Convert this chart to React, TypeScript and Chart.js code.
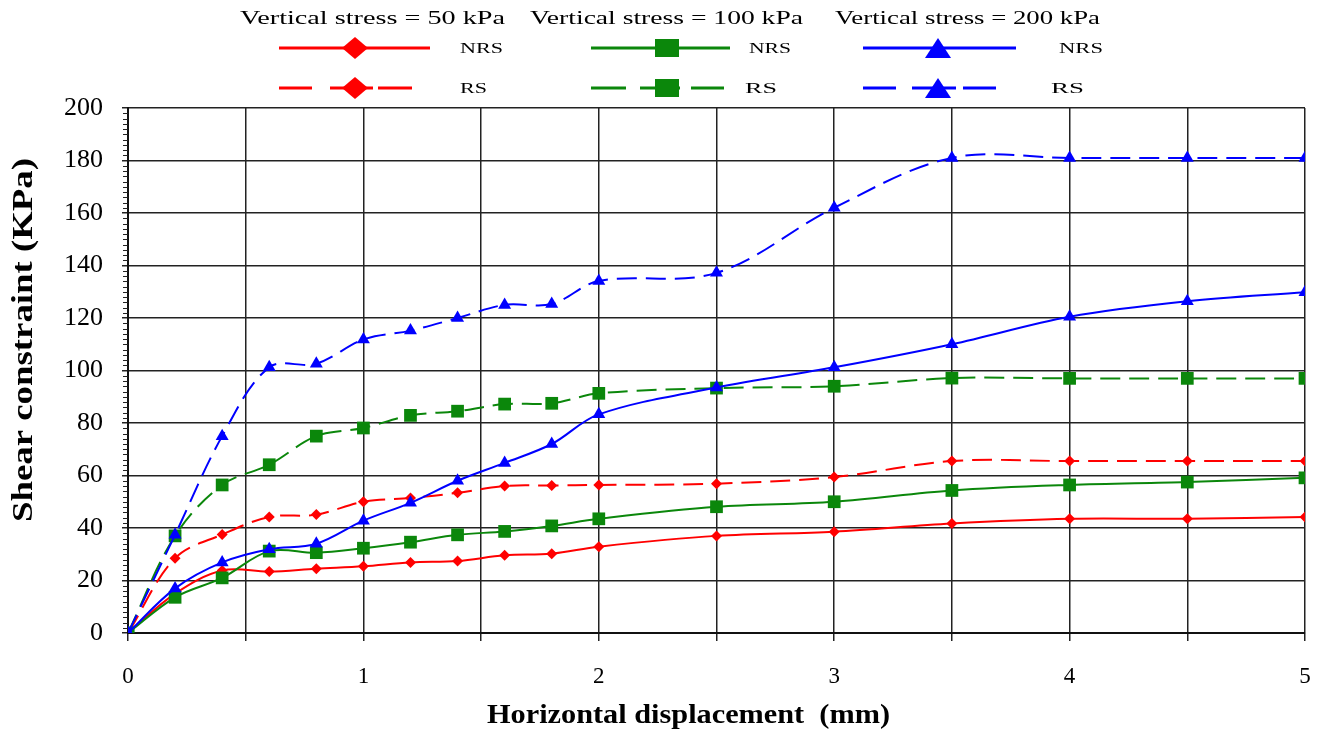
import React, { useEffect, useRef } from 'react';
import { Chart, registerables } from 'chart.js';

Chart.register(...registerables);

// ---------- data ----------
const displacement = [0, 0.2, 0.4, 0.6, 0.8, 1, 1.2, 1.4, 1.6, 1.8, 2, 2.5, 3, 3.5, 4, 4.5, 5];

const nrs50 = [0, 15, 23.8, 23.4, 24.5, 25.4, 26.9, 27.4, 29.6, 30.2, 32.9, 37, 38.6, 41.7, 43.5, 43.5, 44.2];
const rs50 = [0, 28.5, 37.5, 44.2, 45.1, 50, 51.4, 53.4, 56, 56.2, 56.4, 56.9, 59.4, 65.5, 65.5, 65.5, 65.5];
const nrs100 = [0, 13.6, 21, 31.2, 30.6, 32.3, 34.6, 37.4, 38.7, 40.8, 43.5, 48.1, 50, 54.3, 56.4, 57.5, 59.1];
const rs100 = [0, 37, 56.4, 64.1, 75, 78.1, 82.9, 84.5, 87.2, 87.5, 91.3, 93.3, 94, 97.1, 97, 97, 97];
const nrs200 = [0, 17, 26.9, 31.9, 34, 42.8, 49.6, 58, 64.8, 72, 83.3, 93.5, 101.2, 110, 120.5, 126.4, 129.8];
const rs200 = [0, 37.4, 75, 101.2, 102.6, 111.8, 115.2, 120, 125, 125.3, 134.1, 137.2, 162, 181, 181, 181, 181];

const groupTitles = ['Vertical stress = 50 kPa', 'Vertical stress = 100 kPa', 'Vertical stress = 200 kPa'];
const seriesNames = ['NRS', 'RS'];
const xTitle = 'Horizontal displacement  (mm)';
const yTitle = 'Shear constraint (KPa)';

const RED = '#ff0000';
const GREEN = '#0b870b';
const BLUE = '#0000ff';
const SERIF = '"Liberation Serif", "Times New Roman", serif';
const DASH = [20, 9];

type Shape = 'diamond' | 'square' | 'triangle';

function toPoints(ys: number[]) {
  return displacement.map((x, i) => ({ x, y: ys[i] }));
}

function drawMarker(ctx: CanvasRenderingContext2D, shape: Shape, x: number, y: number, rx: number, ry: number, color: string) {
  ctx.save();
  ctx.fillStyle = color;
  ctx.beginPath();
  if (shape === 'diamond') {
    ctx.moveTo(x - rx, y);
    ctx.lineTo(x, y - ry);
    ctx.lineTo(x + rx, y);
    ctx.lineTo(x, y + ry);
  } else if (shape === 'square') {
    ctx.rect(x - rx, y - ry, 2 * rx, 2 * ry);
  } else {
    ctx.moveTo(x, y - ry);
    ctx.lineTo(x + rx, y + ry);
    ctx.lineTo(x - rx, y + ry);
  }
  ctx.closePath();
  ctx.fill();
  ctx.restore();
}

function drawStretched(ctx: CanvasRenderingContext2D, text: string, x0: number, x1: number, y: number, font: string, rotate = false) {
  ctx.save();
  ctx.font = font;
  ctx.fillStyle = '#000';
  ctx.textBaseline = 'middle';
  ctx.textAlign = 'center';
  const w = ctx.measureText(text).width;
  const s = Math.abs(x1 - x0) / w;
  if (rotate) {
    // x0/x1 are vertical extents, y is the horizontal centre
    ctx.translate(y, (x0 + x1) / 2);
    ctx.rotate(-Math.PI / 2);
  } else {
    ctx.translate((x0 + x1) / 2, y);
  }
  ctx.scale(s, 1);
  ctx.fillText(text, 0, 0);
  ctx.restore();
}

const legendGroups = [
  {
    color: RED, shape: 'diamond' as Shape, x0: 279, x1: 430, mx: 355, rx: 13, ry: 11,
    nrs: [460, 503], rs: [460, 487], dashes: [[279, 312], [330, 373], [378, 412]],
  },
  {
    color: GREEN, shape: 'square' as Shape, x0: 591, x1: 730, mx: 667, rx: 12, ry: 9,
    nrs: [749, 791], rs: [745, 777], dashes: [[591, 626], [640, 680], [691, 724]],
  },
  {
    color: BLUE, shape: 'triangle' as Shape, x0: 863, x1: 1016, mx: 938, rx: 13, ry: 10,
    nrs: [1059, 1103], rs: [1051, 1084], dashes: [[863, 896], [912, 956], [963, 996]],
  },
];
const titleSpans = [[240, 505], [530, 803], [835, 1100]];

const overlayPlugin = {
  id: 'overlay',
  afterDraw(chart: any) {
    const ctx: CanvasRenderingContext2D = chart.ctx;
    // group titles
    groupTitles.forEach((t, i) => {
      drawStretched(ctx, t, titleSpans[i][0], titleSpans[i][1], 19, `19px ${SERIF}`);
    });
    const rows = [48, 88];
    legendGroups.forEach((g) => {
      rows.forEach((ry, ri) => {
        ctx.save();
        ctx.strokeStyle = g.color;
        ctx.lineWidth = 3;
        ctx.beginPath();
        if (ri === 0) {
          ctx.moveTo(g.x0, ry);
          ctx.lineTo(g.x1, ry);
        } else {
          g.dashes.forEach(([a, b]) => {
            ctx.moveTo(a, ry);
            ctx.lineTo(b, ry);
          });
        }
        ctx.stroke();
        ctx.restore();
        drawMarker(ctx, g.shape, g.mx, ry, g.rx, g.ry, g.color);
        const span = ri === 0 ? g.nrs : g.rs;
        drawStretched(ctx, seriesNames[ri], span[0], span[1], ry + 1, `15px ${SERIF}`);
      });
    });
    // axis titles
    drawStretched(ctx, xTitle, 487, 890, 716, `bold 27px ${SERIF}`);
    drawStretched(ctx, yTitle, 522, 158, 24, `bold 30px ${SERIF}`, true);

    // minor ticks on the y axis
    const y = chart.scales.y;
    const left = chart.chartArea.left;
    ctx.save();
    ctx.strokeStyle = '#222';
    ctx.lineWidth = 1;
    ctx.beginPath();
    for (let v = 0; v <= 200; v += 2) {
      if (v % 20 === 0) continue;
      const py = Math.round(y.getPixelForValue(v)) + 0.5;
      ctx.moveTo(left - 5, py);
      ctx.lineTo(left, py);
    }
    ctx.stroke();
    ctx.restore();
  },
};

function ds(label: string, ys: number[], color: string, shape: Shape, dashed: boolean, order: number) {
  const style = shape === 'diamond' ? 'rectRot' : shape === 'square' ? 'rect' : 'triangle';
  const radius = shape === 'diamond' ? 5.5 : shape === 'square' ? 9 : 7.5;
  return {
    label,
    data: toPoints(ys),
    borderColor: color,
    backgroundColor: color,
    borderWidth: 2,
    borderDash: dashed ? DASH : [],
    pointStyle: style,
    pointRadius: radius,
    pointBorderWidth: 0,
    pointBackgroundColor: color,
    pointBorderColor: color,
    tension: 0.35,
    order,
  };
}

export default function App() {
  const ref = useRef<HTMLCanvasElement | null>(null);
  useEffect(() => {
    if (!ref.current) return;
    const chart = new Chart(ref.current, {
      type: 'line',
      data: {
        datasets: [
          ds('50 kPa NRS', nrs50, RED, 'diamond', false, 6),
          ds('50 kPa RS', rs50, RED, 'diamond', true, 5),
          ds('100 kPa NRS', nrs100, GREEN, 'square', false, 4),
          ds('100 kPa RS', rs100, GREEN, 'square', true, 3),
          ds('200 kPa NRS', nrs200, BLUE, 'triangle', false, 2),
          ds('200 kPa RS', rs200, BLUE, 'triangle', true, 1),
        ] as any,
      },
      options: {
        animation: false,
        responsive: false,
        events: [],
        layout: { padding: { top: 108, right: 14, left: 0, bottom: 0 } },
        plugins: { legend: { display: false }, tooltip: { enabled: false } },
        scales: {
          x: {
            type: 'linear',
            min: 0,
            max: 5,
            ticks: {
              stepSize: 0.5,
              autoSkip: false,
              maxRotation: 0,
              color: '#000',
              padding: 22,
              font: { family: SERIF, size: 23 },
              callback: (v: any) => (Number.isInteger(v) ? String(v) : ''),
            },
            grid: { color: '#222', lineWidth: 1.5, tickLength: 8, drawTicks: true },
            border: { color: '#111', width: 2 },
            title: { display: false },
            afterFit: (s: any) => {
              s.height = 96;
              s.paddingLeft = 0;
              s.paddingRight = 0;
            },
          },
          y: {
            min: 0,
            max: 200,
            ticks: {
              stepSize: 20,
              color: '#000',
              padding: 19,
              font: { family: SERIF, size: 26 },
            },
            grid: { color: '#222', lineWidth: 1.5, tickLength: 6, drawTicks: true },
            border: { color: '#111', width: 2 },
            title: { display: false },
            afterFit: (s: any) => {
              s.width = 128;
              s.paddingTop = 0;
              s.paddingBottom = 0;
            },
          },
        },
      } as any,
      plugins: [overlayPlugin],
    });
    return () => chart.destroy();
  }, []);
  return (
    <div style={{ position: 'absolute', left: 0, top: 0, width: 1319, height: 729, background: '#fff' }}>
      <canvas ref={ref} width={1319} height={729} style={{ display: 'block', width: 1319, height: 729 }} />
    </div>
  );
}
